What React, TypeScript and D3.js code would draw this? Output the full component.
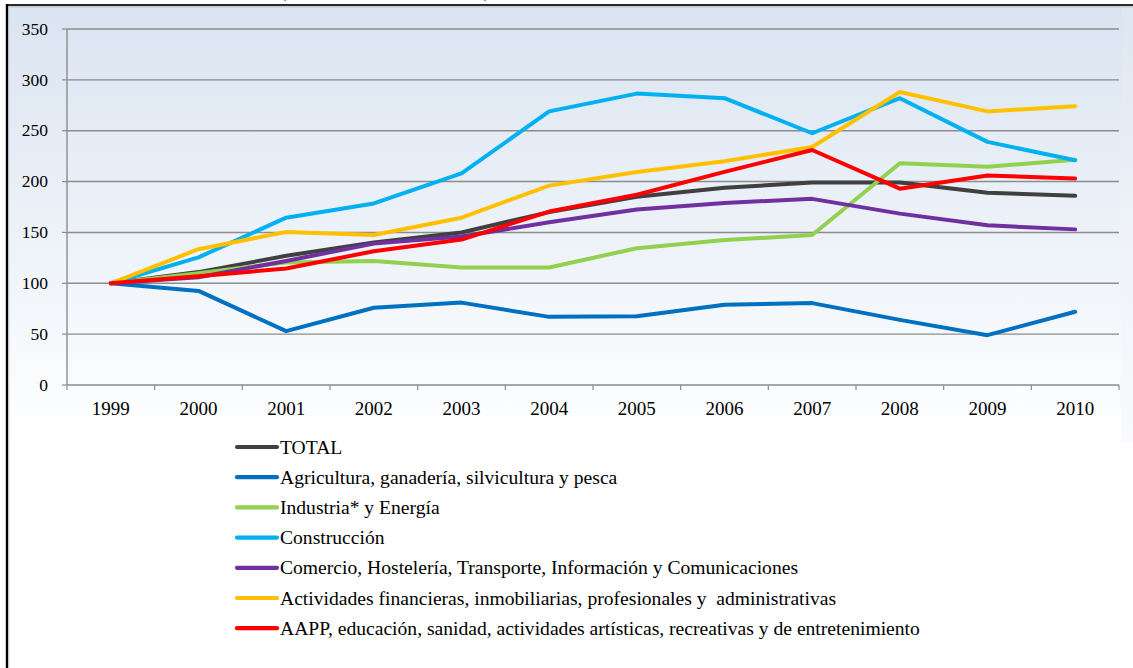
import React from "react";
import * as d3 from "d3";

const years = ["1999","2000","2001","2002","2003","2004","2005","2006","2007","2008","2009","2010"];
const yTicks = [0, 50, 100, 150, 200, 250, 300, 350];

const total = [100, 111, 127, 140, 150, 170, 185, 194, 199, 199, 189, 186];
const agricultura = [100, 92.5, 53, 76, 81, 67, 67.5, 79, 80.5, 64, 49, 72];
const industria = [100, 110, 120.5, 122, 115.5, 115.5, 134.5, 142.5, 147.5, 218, 214.5, 221.5];
const construccion = [100, 125.5, 164.5, 178.5, 208, 269, 286.5, 282, 247.5, 282, 239, 221];
const comercio = [100, 106, 122, 139, 146, 160, 172.5, 179, 183, 168.5, 157, 153];
const actividades = [100, 133.5, 150.5, 147.5, 164.5, 196, 209.5, 220, 234, 288, 269, 274];
const aapp = [100, 107, 114.5, 131.5, 143, 170.5, 187, 209.5, 231, 193, 206, 203];

const seriesNames = [
  "TOTAL",
  "Agricultura, ganadería, silvicultura y pesca",
  "Industria* y Energía",
  "Construcción",
  "Comercio, Hostelería, Transporte, Información y Comunicaciones",
  "Actividades financieras, inmobiliarias, profesionales y  administrativas",
  "AAPP, educación, sanidad, actividades artísticas, recreativas y de entretenimiento",
];
const seriesValues = [total, agricultura, industria, construccion, comercio, actividades, aapp];
const seriesColors = ["#404040", "#0070c0", "#92d050", "#00b0f0", "#7030a0", "#ffc000", "#ff0000"];

const titleText = "(Índice de volumen 1999 = 100)";

export default function App() {
  const W = 1133, H = 668;
  const left = 67, right = 1119, top = 29, bottom = 385;
  const x = d3.scaleBand<string>().domain(years).range([left, right]);
  const y = d3.scaleLinear().domain([0, 350]).range([bottom, top]);
  const line = d3.line<number>()
    .x((_, i) => (x(years[i]) as number) + x.bandwidth() / 2)
    .y((d) => y(d));
  const font = '"Liberation Serif", "Times New Roman", Tinos, "DejaVu Serif", serif';
  const boundaries = years.map((yr) => x(yr) as number).concat([right]);

  return (
    <svg width={W} height={H} style={{ position: "absolute", left: 0, top: 0, display: "block", fontFamily: font }}>
      <defs>
        <linearGradient id="bg" x1="0" y1="0" x2="0" y2="1">
          <stop offset="0" stopColor="#dae4f1" />
          <stop offset="0.55" stopColor="#eef3f9" />
          <stop offset="1" stopColor="#ffffff" />
        </linearGradient>
        <linearGradient id="bg2" x1="0" y1="0" x2="0" y2="1">
          <stop offset="0" stopColor="#dde6f1" />
          <stop offset="0.5" stopColor="#eef2f8" />
          <stop offset="1" stopColor="#f9fafd" />
        </linearGradient>
      </defs>
      <rect x={0} y={0} width={W} height={H} fill="#ffffff" />
      <rect x={8} y={6} width={1113} height={436} fill="url(#bg)" />
      <rect x={1121} y={6} width={12} height={436} fill="url(#bg2)" />

      <text x={281} y={-2.5} fontSize={17} fill="#3a3aff" textLength={208} lengthAdjust="spacing" style={{ fontFamily: font }}>{titleText}</text>

      {/* frame */}
      <line x1={6} y1={5} x2={W} y2={5} stroke="#2a2a2a" strokeWidth={2.2} />
      <line x1={8} y1={6.8} x2={W} y2={6.8} stroke="#b0b0b0" strokeWidth={0.8} />
      <line x1={7} y1={4} x2={7} y2={H} stroke="#000000" strokeWidth={2.4} />
      <line x1={8.8} y1={6} x2={8.8} y2={H} stroke="#c8c8c8" strokeWidth={0.8} />

      {/* gridlines */}
      {yTicks.filter((t) => t > 0).map((t) => (
        <line key={"g" + t} x1={left} x2={right} y1={y(t)} y2={y(t)} stroke="#8c8c8c" strokeWidth={1.4} />
      ))}
      {/* axes */}
      <line x1={left} x2={left} y1={top} y2={bottom} stroke="#8c8c8c" strokeWidth={1.4} />
      <line x1={left} x2={right} y1={bottom} y2={bottom} stroke="#8c8c8c" strokeWidth={1.4} />
      {yTicks.map((t) => (
        <g key={"yt" + t}>
          <line x1={left - 5} x2={left} y1={y(t)} y2={y(t)} stroke="#8c8c8c" strokeWidth={1.2} />
          <text x={48} y={y(t)} dy="0.33em" textAnchor="end" fontSize={17.5} fill="#000" style={{ fontFamily: font }}>{t}</text>
        </g>
      ))}
      {boundaries.map((b, i) => (
        <line key={"xt" + i} x1={b} x2={b} y1={bottom} y2={bottom + 5} stroke="#8c8c8c" strokeWidth={1.2} />
      ))}
      {years.map((yr) => (
        <text key={"xl" + yr} x={(x(yr) as number) + x.bandwidth() / 2} y={414.5} textAnchor="middle" fontSize={19} fill="#000" style={{ fontFamily: font }}>{yr}</text>
      ))}

      {/* series */}
      {seriesValues.map((vals, i) => (
        <path key={"s" + i} d={line(vals) || ""} fill="none" stroke={seriesColors[i]} strokeWidth={4} strokeLinejoin="round" strokeLinecap="round" />
      ))}

      {/* legend */}
      {seriesNames.map((name, i) => {
        const cy = 447 + i * 30.2;
        return (
          <g key={"l" + i}>
            <line x1={237} x2={277} y1={cy} y2={cy} stroke={seriesColors[i]} strokeWidth={4.2} strokeLinecap="round" />
            <text x={280} y={cy} dy="0.34em" fontSize={19.6} fill="#000" style={{ fontFamily: font, whiteSpace: "pre" }}>{name}</text>
          </g>
        );
      })}
    </svg>
  );
}
